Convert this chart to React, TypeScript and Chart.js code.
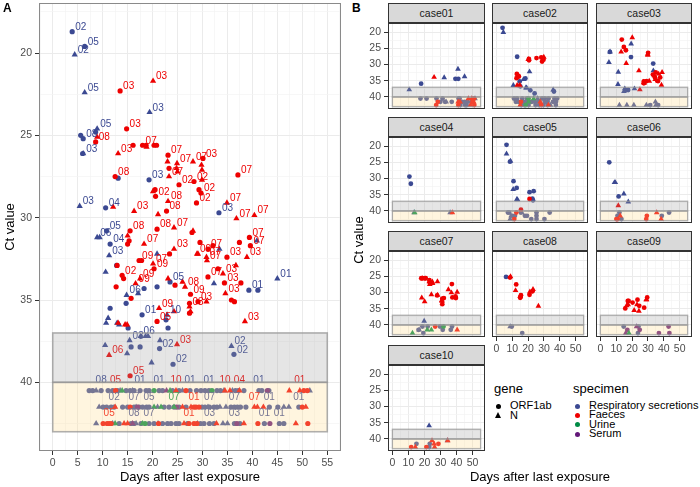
import React, { useEffect, useRef } from 'react';
import { Chart, registerables } from 'chart.js';

Chart.register(...registerables);

const FONT = '"Liberation Sans", Arial, Helvetica, sans-serif';
Chart.defaults.font.family = FONT;

// [day, Ct value, case number, show case label (1/0)]
type Pt = [number, number, number, number];

const BLUE = '#3B4992';
const RED = '#EE0000';
const GREEN = '#008B45';
const PURPLE = '#631879';

const respORF1ab: Pt[] = [
  [3.9, 18.7, 2, 1], [6.4, 19.6, 5, 1], [8.6, 24.8, 5, 0], [5.6, 25.0, 6, 0], [6.1, 25.2, 8, 1],
  [6.0, 26.1, 3, 0], [13.1, 27.6, 2, 0], [19.3, 27.7, 3, 1], [10.6, 29.4, 4, 1], [33.3, 29.7, 3, 1],
  [10.8, 30.8, 5, 1], [11.5, 31.6, 4, 1], [12.8, 32.9, 5, 0], [23.5, 33.9, 5, 1], [20.9, 34.2, 5, 0],
  [18.3, 34.3, 2, 0], [14.7, 35.2, 2, 0], [11.5, 35.5, 6, 0], [17.9, 35.9, 1, 1], [22.7, 36.2, 5, 0],
  [15.1, 36.7, 2, 0], [23.1, 36.7, 5, 0], [39.3, 34.4, 1, 1], [41.1, 34.4, 1, 0], [15.7, 37.85, 3, 0],
  [17.5, 37.85, 3, 0], [21.4, 37.95, 2, 1], [36.3, 38.3, 2, 1], [24.1, 38.9, 2, 1],
  [7.3, 40.5, 5, 0], [8.0, 40.5, 5, 0], [9.7, 40.5, 8, 1], [11.1, 40.5, 2, 0], [12.0, 40.5, 6, 0],
  [13.0, 40.5, 2, 0], [14.7, 40.5, 9, 0], [15.5, 40.5, 5, 0], [16.3, 40.5, 2, 0], [17.5, 40.5, 1, 1],
  [18.7, 40.5, 7, 0], [19.3, 40.5, 2, 0], [21.3, 40.5, 1, 1], [22.0, 40.5, 7, 0], [24.0, 40.5, 9, 0],
  [25.3, 40.5, 5, 0], [27.5, 40.5, 1, 1], [28.8, 40.5, 2, 0], [29.7, 40.5, 7, 0], [30.5, 40.5, 2, 0],
  [31.3, 40.5, 1, 1], [32.9, 40.5, 2, 0], [33.6, 40.5, 5, 0], [36.6, 40.5, 2, 0], [37.2, 40.5, 7, 0],
  [38.3, 40.5, 2, 0], [41.3, 40.5, 1, 1], [41.9, 40.5, 1, 0], [43.3, 40.5, 6, 0],
  [10.1, 41.5, 5, 0], [10.8, 41.5, 6, 0], [11.7, 41.5, 5, 0], [12.3, 41.5, 2, 1], [14.0, 41.5, 2, 0],
  [15.0, 41.5, 10, 0], [16.3, 41.5, 7, 1], [17.3, 41.5, 2, 0], [18.0, 41.5, 5, 0], [18.8, 41.5, 2, 0],
  [19.3, 41.5, 5, 1], [22.3, 41.5, 2, 0], [23.3, 41.5, 10, 0], [24.3, 41.5, 2, 0], [25.3, 41.5, 5, 0],
  [26.7, 41.5, 2, 0], [29.9, 41.5, 1, 0], [30.5, 41.5, 2, 0], [31.4, 41.5, 7, 1], [32.3, 41.5, 2, 0],
  [32.9, 41.5, 1, 0], [35.7, 41.5, 2, 0], [36.4, 41.5, 7, 1], [37.0, 41.5, 1, 0], [37.6, 41.5, 2, 0],
  [38.7, 41.5, 6, 0], [43.4, 41.5, 1, 1], [45.1, 41.5, 1, 0], [49.3, 41.5, 1, 1],
  [13.3, 42.5, 6, 0], [15.7, 42.5, 2, 0], [16.3, 42.5, 8, 1], [17.7, 42.5, 2, 0], [19.3, 42.5, 7, 1],
  [20.3, 42.5, 2, 0], [22.0, 42.5, 5, 0], [23.0, 42.5, 10, 0], [23.7, 42.5, 9, 0], [24.7, 42.5, 2, 0],
  [25.3, 42.5, 5, 0], [27.0, 42.5, 2, 0], [29.6, 42.5, 2, 0], [30.3, 42.5, 5, 0], [31.4, 42.5, 3, 1],
  [32.3, 42.5, 2, 0], [36.4, 42.5, 3, 1], [37.5, 42.5, 2, 0], [42.4, 42.5, 1, 1], [45.4, 42.5, 1, 1],
  [46.3, 42.5, 1, 0],
];

const respN: Pt[] = [
  [4.4, 20.1, 2, 1], [6.4, 22.4, 5, 1], [19.4, 23.6, 3, 1], [8.9, 24.6, 5, 1], [6.1, 26.1, 3, 1],
  [5.4, 29.3, 3, 1], [8.9, 31.2, 6, 1], [9.4, 31.2, 6, 0], [11.3, 32.3, 3, 1], [20.9, 32.2, 2, 0],
  [33.4, 31.9, 3, 0], [10.6, 33.3, 5, 0], [32.3, 34.0, 1, 0], [40.9, 31.4, 1, 0], [45.0, 33.7, 1, 1],
  [14.8, 34.7, 6, 1], [17.1, 34.6, 2, 0], [22.9, 35.9, 10, 1], [11.1, 36.1, 3, 0], [10.7, 36.4, 2, 0],
  [12.9, 36.4, 5, 0], [13.3, 36.5, 5, 0], [17.6, 37.2, 6, 1], [18.6, 37.2, 2, 0], [19.1, 37.2, 2, 0],
  [21.5, 37.45, 3, 0], [15.4, 37.45, 3, 1], [10.5, 37.75, 1, 0], [14.9, 38.25, 3, 0], [19.8, 38.8, 7, 0],
  [35.8, 37.8, 2, 1],
  [8.7, 40.5, 8, 0], [13.5, 40.5, 4, 0], [16.0, 40.5, 5, 0], [26.0, 40.5, 2, 0], [34.3, 40.5, 10, 0],
  [36.0, 40.5, 4, 0], [51.5, 40.5, 1, 0],
  [9.3, 41.5, 5, 0], [16.7, 41.5, 7, 0], [21.0, 41.5, 2, 0], [31.1, 41.5, 2, 0], [33.5, 41.5, 1, 0],
  [34.7, 41.5, 3, 0], [46.3, 41.5, 1, 0], [47.3, 41.5, 1, 0],
  [8.7, 42.5, 5, 0], [12.0, 42.5, 3, 0], [16.7, 42.5, 3, 0], [21.1, 42.5, 3, 0], [29.0, 42.5, 3, 0],
  [34.1, 42.5, 2, 0], [35.0, 42.5, 3, 0],
];

const faecesORF1ab: Pt[] = [
  [13.5, 22.3, 3, 1], [14.8, 24.6, 3, 1], [8.6, 25.4, 8, 1], [16.1, 25.6, 3, 0], [18.0, 25.6, 7, 1],
  [18.7, 25.6, 7, 0], [20.3, 25.6, 7, 0], [20.8, 25.6, 7, 0], [23.1, 26.2, 7, 1], [23.3, 27.0, 7, 0],
  [30.1, 26.4, 3, 1], [12.5, 27.5, 8, 1], [25.3, 28.0, 2, 1], [28.3, 27.8, 2, 1], [29.3, 28.3, 2, 0],
  [29.7, 28.5, 2, 1], [20.6, 28.7, 2, 1], [20.5, 28.3, 2, 0], [28.8, 29.1, 2, 1], [22.8, 29.6, 8, 1],
  [37.1, 27.4, 7, 1], [20.9, 30.7, 8, 1], [27.9, 30.9, 7, 0], [15.5, 30.8, 8, 1], [15.3, 31.4, 8, 0],
  [15.0, 31.6, 8, 0], [29.5, 31.5, 9, 0], [23.4, 32.2, 9, 0], [31.1, 31.9, 7, 1], [39.4, 31.2, 7, 1],
  [39.6, 31.7, 7, 1], [37.4, 31.5, 7, 0], [32.1, 31.7, 7, 0], [17.3, 32.6, 9, 1], [17.8, 32.6, 9, 0],
  [12.9, 32.9, 2, 0], [20.3, 33.1, 9, 1], [13.9, 33.5, 2, 1], [14.2, 33.7, 2, 0], [31.1, 33.6, 7, 1],
  [24.5, 34.1, 9, 0], [27.6, 34.65, 9, 1], [34.9, 32.4, 3, 1], [33.1, 33.1, 3, 0], [34.4, 33.96, 3, 1],
  [37.7, 33.96, 3, 0], [12.7, 34.2, 2, 0], [15.7, 34.9, 9, 0], [29.1, 35.1, 3, 1], [27.4, 35.2, 3, 0],
  [27.4, 35.8, 3, 0], [35.8, 35.0, 3, 0], [36.4, 35.1, 3, 0], [20.9, 36.3, 5, 1], [15.5, 39.6, 5, 1],
  [12.6, 40.5, 5, 1], [26.7, 40.5, 7, 0], [50.3, 40.5, 1, 0], [51.0, 40.5, 1, 0],
  [15.5, 41.5, 2, 0], [28.3, 41.5, 1, 1], [28.7, 41.5, 10, 0], [29.3, 41.5, 6, 0], [50.0, 41.5, 1, 0],
  [10.1, 42.5, 6, 0], [10.9, 42.5, 6, 0], [11.3, 42.5, 5, 1], [11.7, 42.5, 10, 0], [21.2, 42.5, 10, 0],
  [27.3, 42.5, 1, 1], [28.3, 42.5, 2, 0], [28.9, 42.5, 6, 0], [41.1, 42.5, 1, 0], [51.1, 42.5, 1, 0],
];

const faecesN: Pt[] = [
  [20.1, 21.7, 3, 1], [8.9, 25.1, 8, 0], [13.1, 26.1, 3, 1], [18.8, 25.7, 7, 0], [23.0, 26.6, 7, 0],
  [24.9, 26.7, 7, 1], [24.8, 27.0, 7, 0], [25.0, 27.2, 7, 0], [28.1, 26.6, 7, 1], [29.8, 26.8, 3, 0],
  [29.9, 27.1, 3, 0], [23.3, 27.5, 7, 1], [29.9, 27.7, 2, 0], [20.1, 28.4, 2, 0], [23.1, 29.0, 8, 1],
  [12.1, 29.35, 8, 0], [16.3, 29.6, 3, 1], [21.1, 29.8, 8, 0], [34.9, 29.1, 7, 1], [36.8, 30.05, 7, 1],
  [40.4, 29.85, 7, 1], [24.3, 30.6, 7, 1], [28.1, 30.8, 7, 0], [15.0, 31.1, 8, 0], [18.3, 31.6, 7, 1],
  [24.3, 31.9, 3, 1], [28.9, 32.2, 9, 1], [30.9, 32.6, 7, 1], [29.1, 32.2, 9, 0], [30.8, 32.4, 7, 1],
  [38.9, 32.4, 3, 1], [20.1, 32.8, 7, 1], [17.5, 33.7, 9, 1], [23.1, 33.7, 9, 0], [34.1, 33.4, 3, 1],
  [36.7, 32.9, 3, 0], [26.5, 34.2, 8, 1], [16.6, 34.0, 9, 1], [34.6, 34.6, 3, 1], [30.8, 35.1, 3, 0],
  [27.4, 35.4, 3, 1], [27.6, 35.7, 3, 0], [24.3, 35.7, 9, 0], [21.3, 35.5, 9, 1], [38.5, 36.3, 3, 1],
  [14.9, 36.5, 2, 0], [13.1, 36.4, 2, 0], [14.5, 36.5, 2, 0], [24.9, 37.7, 3, 1], [11.3, 38.35, 6, 1],
  [26.0, 33.9, 1, 0],
  [24.7, 40.5, 10, 1], [34.5, 40.5, 10, 1], [35.5, 40.5, 6, 0], [37.4, 40.5, 4, 1], [47.4, 40.5, 1, 0],
  [49.5, 40.5, 1, 1],
  [12.5, 41.5, 6, 0], [26.0, 41.5, 10, 0], [27.7, 41.5, 2, 0], [40.4, 41.5, 7, 1], [41.0, 41.5, 1, 0],
  [42.2, 41.5, 1, 0], [50.7, 41.5, 1, 0],
  [14.3, 42.5, 10, 0], [15.0, 42.5, 2, 0], [26.3, 42.5, 10, 0], [32.8, 42.5, 2, 0], [38.3, 42.5, 6, 0],
  [48.7, 42.5, 1, 0],
];

const urineORF1ab: Pt[] = [
  [20.3, 40.5, 2, 0], [31.9, 40.5, 7, 0], [18.5, 42.5, 2, 0],
];
const urineN: Pt[] = [
  [13.9, 40.5, 4, 0], [23.5, 40.5, 2, 0], [20.3, 41.5, 2, 0], [21.7, 41.5, 7, 0], [24.3, 41.5, 7, 1],
  [12.5, 42.5, 7, 0], [18.0, 42.5, 9, 0],
];
const serumORF1ab: Pt[] = [
  [43.0, 40.5, 9, 0], [17.0, 41.5, 9, 0], [24.8, 41.5, 9, 0], [36.9, 42.5, 9, 0], [43.5, 42.5, 9, 0],
];
const serumN: Pt[] = [
  [22.8, 40.5, 9, 0], [16.0, 42.5, 9, 0],
];

const caseNames = ['case01', 'case02', 'case03', 'case04', 'case05', 'case06', 'case07', 'case08', 'case09', 'case10'];
const specimenNames = ['Respiratory secretions', 'Faeces', 'Urine', 'Serum'];
const specimenColors = [BLUE, RED, GREEN, PURPLE];
const geneNames = ['ORF1ab', 'N'];

// undetectable / limit bands (Ct), spanning day 0..55
const bandDays = [0, 55];
const greyBand = [37, 40];
const yellowBand = [40, 43];

const xMajorA = [0, 5, 10, 15, 20, 25, 30, 35, 40, 45, 50, 55];
const xMajorB = [0, 10, 20, 30, 40, 50];
const yMajor = [20, 25, 30, 35, 40];

const SERIES = [
  { data: faecesN, color: RED, shape: 'triangle' },
  { data: faecesORF1ab, color: RED, shape: 'circle' },
  { data: urineN, color: GREEN, shape: 'triangle' },
  { data: urineORF1ab, color: GREEN, shape: 'circle' },
  { data: serumN, color: PURPLE, shape: 'triangle' },
  { data: serumORF1ab, color: PURPLE, shape: 'circle' },
  { data: respN, color: BLUE, shape: 'triangle' },
  { data: respORF1ab, color: BLUE, shape: 'circle' },
];

function buildDatasets(caseNo: number | null, rC: number, rT: number) {
  return SERIES.map((s) => ({
    data: s.data
      .filter((p) => caseNo === null || p[2] === caseNo)
      .map((p) => ({ x: p[0], y: p[1], c: p[2], l: p[3] })),
    backgroundColor: s.color,
    borderWidth: 0,
    pointStyle: s.shape,
    pointRadius: s.shape === 'circle' ? rC : rT,
    showLine: false,
  }));
}

function withMinor(majors: number[], step: number, min: number, max: number) {
  const all = new Set<number>(majors);
  for (const m of majors) {
    [m - step / 2, m + step / 2].forEach((v) => { if (v > min && v < max) all.add(v); });
  }
  return Array.from(all).sort((a, b) => a - b);
}

function axis(opts: {
  majors: number[]; step: number; min: number; max: number; reverse?: boolean;
  labels: boolean; size: number; vertical: boolean; title?: any;
}) {
  const { majors, step, min, max, reverse, labels, size, vertical, title } = opts;
  const all = withMinor(majors, step, min, max);
  const isMajor = (ctx: any) => ctx.tick && majors.includes(ctx.tick.value);
  return {
    type: 'linear',
    min, max, reverse: !!reverse,
    afterBuildTicks: (s: any) => { s.ticks = all.map((v) => ({ value: v })); },
    afterFit: (s: any) => {
      if (vertical) { s.width = size; s.paddingTop = 0; s.paddingBottom = 0; }
      else { s.height = size; s.paddingLeft = 0; s.paddingRight = 0; }
    },
    ticks: {
      display: labels, autoSkip: false, maxRotation: 0, minRotation: 0,
      padding: vertical ? 3 : 2, color: '#4D4D4D',
      font: { size: 10.5, family: FONT },
      callback: (v: number) => (majors.includes(v) ? String(v) : ''),
    },
    grid: {
      color: (ctx: any) => (isMajor(ctx) ? '#EBEBEB' : '#F4F4F4'),
      lineWidth: (ctx: any) => (isMajor(ctx) ? 1 : 0.7),
      drawTicks: labels, tickLength: 4,
      tickColor: (ctx: any) => (isMajor(ctx) ? '#333333' : 'rgba(0,0,0,0)'),
      tickWidth: 1,
    },
    border: { display: false },
    title: title || { display: false },
  };
}

const decorPlugin = {
  id: 'decor',
  afterDatasetsDraw(chart: any, _args: any, opts: any) {
    const { ctx, chartArea: ca, scales } = chart;
    const xs = scales.x, ys = scales.y;
    ctx.save();
    ctx.beginPath();
    ctx.rect(ca.left, ca.top, ca.right - ca.left, ca.bottom - ca.top);
    ctx.clip();
    if (opts.labels) {
      ctx.font = `10px ${FONT}`;
      ctx.textBaseline = 'middle';
      chart.data.datasets.forEach((ds: any, di: number) => {
        const meta = chart.getDatasetMeta(di);
        ds.data.forEach((p: any, i: number) => {
          if (!p.l) return;
          const el = meta.data[i];
          const txt = String(p.c).padStart(2, '0');
          ctx.fillStyle = ds.backgroundColor;
          if (p.y > 40) {
            ctx.textAlign = 'center';
            ctx.fillText(txt, el.x, el.y - 10);
          } else {
            ctx.textAlign = 'left';
            ctx.fillText(txt, el.x + 3, el.y - 4.5);
          }
        });
      });
    }
    const x0 = xs.getPixelForValue(bandDays[0]);
    const x1 = xs.getPixelForValue(bandDays[1]);
    const bands = [
      { r: greyBand, fill: 'rgba(160,160,160,0.27)' },
      { r: yellowBand, fill: 'rgba(255,222,150,0.3)' },
    ];
    for (const b of bands) {
      const y0 = ys.getPixelForValue(b.r[0]);
      const y1 = ys.getPixelForValue(b.r[1]);
      ctx.fillStyle = b.fill;
      ctx.fillRect(x0, y0, x1 - x0, y1 - y0);
    }
    ctx.strokeStyle = 'rgba(150,150,150,0.75)';
    ctx.lineWidth = opts.bandLine;
    for (const b of bands) {
      const y0 = ys.getPixelForValue(b.r[0]);
      const y1 = ys.getPixelForValue(b.r[1]);
      ctx.strokeRect(x0, y0, x1 - x0, y1 - y0);
    }
    ctx.restore();
    ctx.save();
    ctx.strokeStyle = opts.border;
    ctx.lineWidth = 1;
    ctx.strokeRect(ca.left + 0.5, ca.top + 0.5, ca.right - ca.left - 1, ca.bottom - ca.top - 1);
    ctx.restore();
  },
};

function ChartBox({ left, top, width, height, make }: { left: number; top: number; width: number; height: number; make: () => any }) {
  const ref = useRef<HTMLCanvasElement | null>(null);
  useEffect(() => {
    if (!ref.current) return;
    const chart = new Chart(ref.current, make());
    return () => chart.destroy();
  }, []);
  return (
    <canvas
      ref={ref}
      width={width}
      height={height}
      style={{ position: 'absolute', left, top, width, height }}
    />
  );
}

function makePanelA() {
  return {
    type: 'scatter',
    data: { datasets: buildDatasets(null, 2.6, 3.6) },
    options: {
      animation: false,
      responsive: false,
      devicePixelRatio: 1,
      layout: { padding: { left: 0, top: 3, right: 4, bottom: 0 }, autoPadding: false },
      plugins: { legend: { display: false }, tooltip: { enabled: false }, decor: { labels: true, border: '#8A8A8A', bandLine: 1.6 } },
      scales: {
        x: axis({
          majors: xMajorA, step: 5, min: -2.75, max: 57.75, labels: true, size: 36, vertical: false,
          title: { display: true, text: 'Days after last exposure', color: '#000', font: { size: 13, family: FONT }, padding: { top: 0, bottom: 2 } },
        }),
        y: axis({
          majors: yMajor, step: 5, min: 16.96, max: 44.17, reverse: true, labels: true, size: 39, vertical: true,
          title: { display: true, text: 'Ct value', color: '#000', font: { size: 13, family: FONT }, padding: { top: 3, bottom: 0 } },
        }),
      },
    },
    plugins: [decorPlugin],
  };
}

function makeFacet(caseNo: number, showY: boolean, showX: boolean) {
  return {
    type: 'scatter',
    data: { datasets: buildDatasets(caseNo, 2.4, 3.3) },
    options: {
      animation: false,
      responsive: false,
      devicePixelRatio: 1,
      layout: { padding: 0, autoPadding: false },
      plugins: { legend: { display: false }, tooltip: { enabled: false }, decor: { labels: false, border: '#333333', bandLine: 1.3 } },
      scales: {
        x: axis({ majors: xMajorB, step: 10, min: -2.75, max: 57.75, labels: showX, size: showX ? 22 : 0, vertical: false }),
        y: axis({ majors: yMajor, step: 5, min: 17.2, max: 43.7, reverse: true, labels: showY, size: showY ? 22 : 0, vertical: true }),
      },
    },
    plugins: [decorPlugin],
  };
}

const colLeft = [388, 492, 596];
const colWidth = [97, 96, 96];
const rowTop = [3, 117, 231, 345];
const STRIP_H = 20;
const PANEL_H = 86;

export default function App() {
  const facets = caseNames.map((name, i) => {
    const col = i % 3;
    const row = Math.floor(i / 3);
    const showY = col === 0;
    const showX = i === 7 || i === 8 || i === 9;
    const wy = showY ? 22 : 0;
    const hx = showX ? 22 : 0;
    const pTop = rowTop[row] + STRIP_H;
    return (
      <React.Fragment key={name}>
        <div
          style={{
            position: 'absolute', left: colLeft[col], top: rowTop[row], width: colWidth[col], height: STRIP_H,
            boxSizing: 'border-box', border: '1px solid #333', background: '#D9D9D9',
            font: `10.5px ${FONT}`, color: '#1A1A1A', textAlign: 'center', lineHeight: `${STRIP_H - 2}px`,
          }}
        >
          {name}
        </div>
        <ChartBox
          left={colLeft[col] - wy}
          top={pTop}
          width={colWidth[col] + wy}
          height={PANEL_H + hx}
          make={() => makeFacet(i + 1, showY, showX)}
        />
      </React.Fragment>
    );
  });

  return (
    <div style={{ position: 'absolute', left: 0, top: 0, width: 700, height: 487, background: '#fff', overflow: 'hidden', fontFamily: FONT }}>
      <ChartBox left={0} top={0} width={345} height={487} make={makePanelA} />
      <div style={{ position: 'absolute', left: 3, top: 1, font: `bold 12px ${FONT}`, color: '#000' }}>A</div>
      <div style={{ position: 'absolute', left: 352, top: 1, font: `bold 12px ${FONT}`, color: '#000' }}>B</div>
      {facets}
      <div
        style={{
          position: 'absolute', left: 359 - 40, top: 240 - 8, width: 80, height: 16, textAlign: 'center',
          font: `13px ${FONT}`, color: '#000', transform: 'rotate(-90deg)', lineHeight: '16px',
        }}
      >
        Ct value
      </div>
      <div
        style={{
          position: 'absolute', left: 440, top: 469, width: 200, textAlign: 'center',
          font: `13px ${FONT}`, color: '#000', lineHeight: '16px',
        }}
      >
        Days after last exposure
      </div>
      {/* legend: gene */}
      <div style={{ position: 'absolute', left: 494, top: 381, font: `13px ${FONT}`, color: '#000' }}>gene</div>
      {geneNames.map((g, i) => (
        <React.Fragment key={g}>
          {i === 0 ? (
            <div style={{ position: 'absolute', left: 495.5, top: 403.5 + i * 9.5, width: 5, height: 5, borderRadius: '50%', background: '#000' }} />
          ) : (
            <div style={{ position: 'absolute', left: 495, top: 402.5 + i * 9.5, width: 0, height: 0, borderLeft: '3px solid transparent', borderRight: '3px solid transparent', borderBottom: '6px solid #000' }} />
          )}
          <div style={{ position: 'absolute', left: 510, top: 399 + i * 9.5, font: `11px ${FONT}`, color: '#000', lineHeight: '13px' }}>{g}</div>
        </React.Fragment>
      ))}
      {/* legend: specimen */}
      <div style={{ position: 'absolute', left: 573, top: 381, font: `13px ${FONT}`, color: '#000' }}>specimen</div>
      {specimenNames.map((s, i) => (
        <React.Fragment key={s}>
          <div style={{ position: 'absolute', left: 575, top: 403.5 + i * 9.4, width: 5, height: 5, borderRadius: '50%', background: specimenColors[i] }} />
          <div style={{ position: 'absolute', left: 589, top: 399 + i * 9.4, font: `11px ${FONT}`, color: '#000', lineHeight: '13px' }}>{s}</div>
        </React.Fragment>
      ))}
    </div>
  );
}
